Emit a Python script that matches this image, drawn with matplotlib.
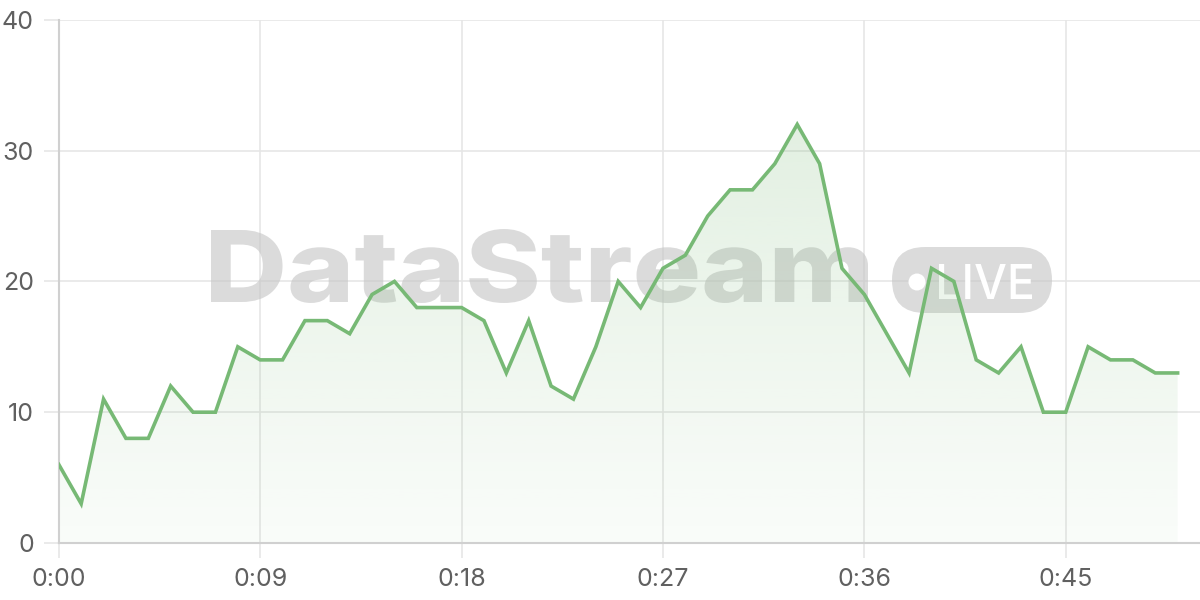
import numpy as np
import matplotlib
matplotlib.use("Agg")
import matplotlib.pyplot as plt
from matplotlib.textpath import TextPath
from matplotlib.patches import PathPatch, FancyBboxPatch, Circle
from matplotlib.font_manager import FontProperties
from matplotlib.transforms import Affine2D, IdentityTransform

plt.rcParams['font.family'] = ['Inter', 'DejaVu Sans']

# minute index (0..50) and values
minutes = list(range(51))
values = [6, 3, 11, 8, 8, 12, 10, 10, 15, 14,
          14, 17, 17, 16, 19, 20, 18, 18, 18, 17,
          13, 17, 12, 11, 15, 20, 18, 21, 22, 25,
          27, 27, 29, 32, 29, 21, 19, 16, 13, 21,
          20, 14, 13, 15, 10, 10, 15, 14, 14, 13, 13]
tick_pos = [0, 9, 18, 27, 36, 45]
tick_labels = ["0:00", "0:09", "0:18", "0:27", "0:36", "0:45"]
y_ticks = [0, 10, 20, 30, 40]

line_color = "#77b975"
grid_color = "#e6e6e6"
mark_gray = (0.77, 0.77, 0.77, 0.6)

fig = plt.figure(figsize=(12, 6), dpi=100)
ax = fig.add_axes([0.049, 0.095, 0.951, 0.872])

x = np.array(minutes)
y = np.array(values)

# gradient fill under the line
poly = ax.fill_between(x, y, 0, color="none", zorder=2)
grad = np.linspace(0.04, 0.22, 256).reshape(-1, 1)
rgba = np.zeros((256, 1, 4))
rgba[..., 0] = 125 / 255
rgba[..., 1] = 187 / 255
rgba[..., 2] = 122 / 255
rgba[..., 3] = grad
img = ax.imshow(rgba, extent=[0, 50, 0, max(values)], origin="lower",
                aspect="auto", zorder=2)
img.set_clip_path(poly.get_paths()[0], transform=ax.transData)

ax.plot(x, y, color=line_color, lw=2.6, zorder=4, solid_joinstyle="miter")


# watermark, placed in pixel coordinates (figure is 1200x600 px)
def text_patch(s, left, base, width, cap, color, weight):
    fp = FontProperties(family="Inter", weight=weight)
    tp = TextPath((0, 0), s, size=100, prop=fp)
    ext = tp.get_extents()
    cap_ref = TextPath((0, 0), "H", size=100, prop=fp).get_extents().y1
    sx = width / ext.width
    sy = cap / cap_ref
    tr = Affine2D().translate(-ext.x0, 0).scale(sx, sy).translate(left, base)
    return PathPatch(tr.transform_path(tp), transform=IdentityTransform(),
                     facecolor=color, edgecolor="none", zorder=1.5)


ax.add_patch(text_patch("DataStream", 211, 600 - 302, 657, 72, mark_gray, "heavy"))
ax.add_patch(FancyBboxPatch((892, 600 - 313), 160, 66,
                            boxstyle="round,pad=0,rounding_size=33",
                            transform=IdentityTransform(),
                            facecolor=mark_gray, edgecolor="none", zorder=1.5))
ax.add_patch(Circle((917, 600 - 282), 8.5, transform=IdentityTransform(),
                    facecolor="white", edgecolor="none", zorder=1.6))
ax.add_patch(text_patch("LIVE", 939, 600 - 299, 93, 35, "white", "medium"))

ax.set_xlim(0, 51.0)
ax.set_ylim(0, 40)
ax.set_xticks(tick_pos)
ax.set_xticklabels(tick_labels)
ax.set_yticks(y_ticks)
ax.grid(True, color=grid_color, lw=1.2, zorder=0)
ax.set_axisbelow(True)

for side in ["top", "right"]:
    ax.spines[side].set_visible(False)
for side in ["left", "bottom"]:
    ax.spines[side].set_color("#d0d0d0")
    ax.spines[side].set_linewidth(1.5)

ax.tick_params(axis="both", colors=grid_color, length=11, width=1.2,
               labelcolor="#606060", labelsize=18, pad=7)

fig.savefig("out.png", dpi=100)
